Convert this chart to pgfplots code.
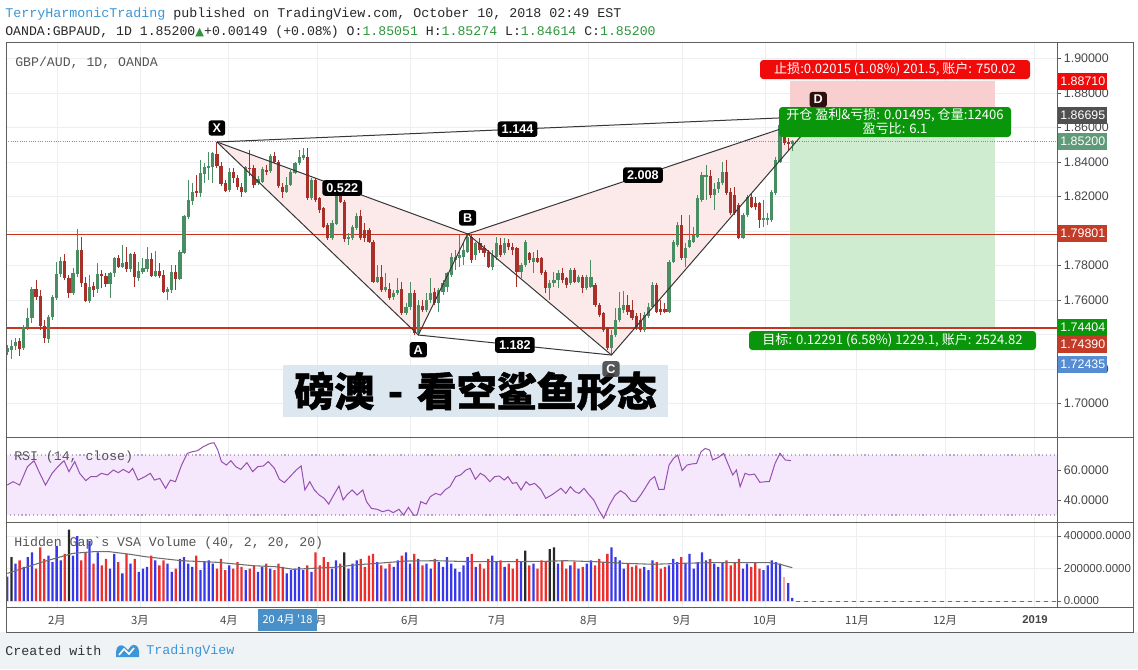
\documentclass[border=0pt]{standalone}
\usepackage{pgfplots}
\pgfplotsset{compat=1.18}
\usepackage{pgfplotstable}
\usepackage{fontspec}
\setmainfont{Liberation Sans}
\newfontfamily\mono{Liberation Mono}
\newfontfamily\cjk{Noto Sans CJK SC}
\newfontfamily\cjkheavy[BoldFeatures={FakeBold=1.2}]{Noto Sans CJK SC}
\newfontfamily\dejavu{DejaVu Sans}

\definecolor{cgreen}{RGB}{72,142,98}
\definecolor{cred}{RGB}{168,48,40}
\definecolor{lvl}{RGB}{200,52,32}
\definecolor{gridc}{RGB}{236,238,240}
\definecolor{framec}{RGB}{95,95,95}
\definecolor{ticktext}{RGB}{70,70,70}
\definecolor{hdrblue}{RGB}{60,150,215}
\definecolor{hdrgreen}{RGB}{45,150,60}
\definecolor{hdrtxt}{RGB}{40,40,40}
\definecolor{paneltxt}{RGB}{85,85,85}
\definecolor{foottxt}{RGB}{50,50,50}
\definecolor{dlab}{RGB}{45,15,15}
\definecolor{footbg}{RGB}{240,243,246}
\definecolor{patfill}{RGB}{252,234,234}
\definecolor{patline}{RGB}{55,55,55}
\definecolor{zred}{RGB}{249,206,206}
\definecolor{zgreen}{RGB}{208,236,208}
\definecolor{stopred}{RGB}{240,10,10}
\definecolor{boxgreen}{RGB}{10,150,10}
\definecolor{closec}{RGB}{110,160,140}
\definecolor{rsibg}{RGB}{245,232,252}
\definecolor{rsiline}{RGB}{150,80,175}
\definecolor{rsiband}{RGB}{185,165,200}
\definecolor{vblue}{RGB}{55,55,235}
\definecolor{vred}{RGB}{238,45,45}
\definecolor{vblack}{RGB}{40,40,40}
\definecolor{vfade}{RGB}{245,170,170}
\definecolor{vma}{RGB}{110,110,110}
\definecolor{titlebg}{RGB}{219,230,238}
\definecolor{clab}{RGB}{60,60,60}
\definecolor{lab1}{RGB}{240,10,10}
\definecolor{lab2}{RGB}{80,80,80}
\definecolor{lab3}{RGB}{95,155,120}
\definecolor{lab4}{RGB}{195,60,40}
\definecolor{lab5}{RGB}{10,150,10}
\definecolor{lab6}{RGB}{85,140,210}
\definecolor{datebox}{RGB}{74,144,200}

\pgfplotstableread{
i o h l c
0 1.7301 1.7340 1.7282 1.7321
1 1.7311 1.7369 1.7257 1.7334
2 1.7334 1.7379 1.7311 1.7359
3 1.7365 1.7379 1.7276 1.7317
4 1.7321 1.7456 1.7311 1.7446
5 1.7442 1.7552 1.7427 1.7494
6 1.7494 1.7678 1.7465 1.7664
7 1.7663 1.7717 1.7601 1.7620
8 1.7624 1.7659 1.7427 1.7450
9 1.7450 1.7485 1.7350 1.7379
10 1.7373 1.7514 1.7350 1.7500
11 1.7500 1.7630 1.7485 1.7620
12 1.7610 1.7823 1.7601 1.7751
13 1.7751 1.7852 1.7736 1.7827
14 1.7827 1.7867 1.7717 1.7726
15 1.7726 1.7746 1.7610 1.7639
16 1.7643 1.7784 1.7630 1.7755
17 1.7751 1.8012 1.7736 1.7891
18 1.7891 1.7968 1.7678 1.7701
19 1.7701 1.7736 1.7591 1.7597
20 1.7597 1.7746 1.7581 1.7678
21 1.7682 1.7707 1.7620 1.7659
22 1.7663 1.7813 1.7639 1.7751
23 1.7751 1.7775 1.7668 1.7744
24 1.7742 1.7755 1.7678 1.7693
25 1.7693 1.7765 1.7610 1.7755
26 1.7755 1.7852 1.7736 1.7842
27 1.7846 1.7861 1.7784 1.7794
28 1.7794 1.7919 1.7784 1.7817
29 1.7823 1.7910 1.7765 1.7778
30 1.7778 1.7871 1.7765 1.7867
31 1.7867 1.7881 1.7674 1.7732
32 1.7726 1.7823 1.7713 1.7769
33 1.7765 1.7842 1.7751 1.7788
34 1.7778 1.7910 1.7765 1.7836
35 1.7836 1.7871 1.7736 1.7740
36 1.7740 1.7887 1.7736 1.7771
37 1.7771 1.7813 1.7726 1.7740
38 1.7746 1.7775 1.7639 1.7649
39 1.7649 1.7678 1.7601 1.7663
40 1.7659 1.7804 1.7639 1.7765
41 1.7765 1.7804 1.7659 1.7722
42 1.7722 1.7891 1.7717 1.7877
43 1.7875 1.8093 1.7867 1.8088
44 1.8084 1.8296 1.8068 1.8180
45 1.8176 1.8277 1.8151 1.8229
46 1.8232 1.8325 1.8200 1.8219
47 1.8219 1.8412 1.8200 1.8335
48 1.8331 1.8393 1.8277 1.8370
49 1.8370 1.8460 1.8296 1.8377
50 1.8373 1.8460 1.8277 1.8451
51 1.8447 1.8516 1.8364 1.8377
52 1.8377 1.8402 1.8258 1.8273
53 1.8277 1.8296 1.8229 1.8234
54 1.8238 1.8364 1.8229 1.8344
55 1.8344 1.8364 1.8277 1.8306
56 1.8306 1.8325 1.8238 1.8254
57 1.8258 1.8277 1.8200 1.8229
58 1.8229 1.8377 1.8219 1.8373
59 1.8368 1.8470 1.8316 1.8360
60 1.8364 1.8383 1.8248 1.8267
61 1.8277 1.8316 1.8267 1.8300
62 1.8287 1.8373 1.8277 1.8360
63 1.8354 1.8383 1.8325 1.8344
64 1.8350 1.8447 1.8335 1.8435
65 1.8435 1.8460 1.8393 1.8402
66 1.8402 1.8412 1.8248 1.8258
67 1.8258 1.8277 1.8190 1.8229
68 1.8229 1.8316 1.8219 1.8267
69 1.8267 1.8354 1.8258 1.8344
70 1.8339 1.8402 1.8331 1.8393
71 1.8393 1.8470 1.8383 1.8431
72 1.8422 1.8480 1.8412 1.8441
73 1.8431 1.8480 1.8180 1.8190
74 1.8190 1.8306 1.8180 1.8296
75 1.8296 1.8306 1.8171 1.8180
76 1.8190 1.8200 1.8107 1.8122
77 1.8132 1.8142 1.8016 1.8026
78 1.8035 1.8045 1.7948 1.7958
79 1.7958 1.8064 1.7948 1.8045
80 1.8041 1.8219 1.8035 1.8209
81 1.8209 1.8223 1.8161 1.8171
82 1.8171 1.8180 1.7939 1.7952
83 1.7952 1.7987 1.7919 1.7968
84 1.7958 1.8035 1.7948 1.8022
85 1.8016 1.8103 1.8006 1.8088
86 1.8088 1.8122 1.7948 1.7958
87 1.8005 1.8045 1.7939 1.7958
88 1.8006 1.8016 1.7929 1.7939
89 1.7939 1.7948 1.7697 1.7707
90 1.7707 1.7804 1.7697 1.7736
91 1.7736 1.7804 1.7649 1.7659
92 1.7659 1.7755 1.7649 1.7678
93 1.7663 1.7697 1.7601 1.7610
94 1.7620 1.7659 1.7601 1.7639
95 1.7639 1.7726 1.7630 1.7659
96 1.7663 1.7707 1.7514 1.7523
97 1.7523 1.7581 1.7514 1.7562
98 1.7562 1.7706 1.7542 1.7639
99 1.7639 1.7658 1.7397 1.7411
100 1.7411 1.7600 1.7397 1.7571
101 1.7565 1.7600 1.7532 1.7542
102 1.7542 1.7639 1.7532 1.7600
103 1.7600 1.7726 1.7581 1.7639
104 1.7648 1.7668 1.7571 1.7581
105 1.7581 1.7668 1.7532 1.7658
106 1.7648 1.7716 1.7629 1.7697
107 1.7677 1.7764 1.7648 1.7755
108 1.7745 1.7871 1.7735 1.7851
109 1.7832 1.7890 1.7774 1.7851
110 1.7842 1.7977 1.7793 1.7861
111 1.7851 1.7929 1.7803 1.7890
112 1.7880 1.7990 1.7871 1.7967
113 1.7967 1.7977 1.7813 1.7832
114 1.7861 1.7938 1.7832 1.7929
115 1.7929 1.7958 1.7871 1.7890
116 1.7900 1.7919 1.7851 1.7871
117 1.7880 1.7890 1.7784 1.7793
118 1.7793 1.7890 1.7774 1.7861
119 1.7851 1.7967 1.7832 1.7929
120 1.7919 1.7958 1.7851 1.7861
121 1.7871 1.7958 1.7861 1.7932
122 1.7932 1.7952 1.7890 1.7909
123 1.7905 1.7929 1.7861 1.7890
124 1.7900 1.7909 1.7677 1.7764
125 1.7764 1.7813 1.7726 1.7803
126 1.7803 1.7948 1.7793 1.7938
127 1.7871 1.7880 1.7813 1.7832
128 1.7823 1.7880 1.7755 1.7842
129 1.7842 1.7890 1.7813 1.7823
130 1.7842 1.7851 1.7745 1.7755
131 1.7764 1.7774 1.7639 1.7668
132 1.7668 1.7716 1.7600 1.7697
133 1.7697 1.7764 1.7677 1.7716
134 1.7716 1.7774 1.7668 1.7755
135 1.7755 1.7784 1.7697 1.7716
136 1.7726 1.7735 1.7668 1.7687
137 1.7697 1.7784 1.7687 1.7774
138 1.7774 1.7784 1.7697 1.7706
139 1.7706 1.7745 1.7697 1.7732
140 1.7735 1.7745 1.7639 1.7668
141 1.7668 1.7745 1.7658 1.7732
142 1.7677 1.7832 1.7668 1.7735
143 1.7687 1.7697 1.7562 1.7571
144 1.7571 1.7581 1.7504 1.7513
145 1.7523 1.7532 1.7417 1.7426
146 1.7436 1.7446 1.7310 1.7320
147 1.7320 1.7426 1.7282 1.7397
148 1.7397 1.7552 1.7388 1.7484
149 1.7484 1.7649 1.7475 1.7552
150 1.7542 1.7654 1.7523 1.7571
151 1.7571 1.7629 1.7513 1.7533
152 1.7542 1.7600 1.7484 1.7494
153 1.7507 1.7523 1.7426 1.7446
154 1.7484 1.7523 1.7417 1.7426
155 1.7426 1.7533 1.7417 1.7513
156 1.7507 1.7581 1.7494 1.7562
157 1.7562 1.7706 1.7552 1.7687
158 1.7687 1.7697 1.7523 1.7533
159 1.7546 1.7600 1.7513 1.7533
160 1.7546 1.7581 1.7523 1.7533
161 1.7533 1.7832 1.7523 1.7822
162 1.7822 1.7948 1.7813 1.7938
163 1.7919 1.8054 1.7909 1.8035
164 1.8035 1.8093 1.7832 1.7842
165 1.7842 1.7929 1.7793 1.7900
166 1.7909 1.8093 1.7900 1.7948
167 1.7938 1.8025 1.7929 1.7977
168 1.7967 1.8209 1.7958 1.8189
169 1.8180 1.8344 1.8170 1.8325
170 1.8311 1.8383 1.8180 1.8325
171 1.8319 1.8354 1.8189 1.8209
172 1.8209 1.8277 1.8122 1.8242
173 1.8242 1.8306 1.8218 1.8286
174 1.8277 1.8402 1.8267 1.8344
175 1.8344 1.8412 1.8209 1.8218
176 1.8228 1.8248 1.8093 1.8103
177 1.8209 1.8257 1.8093 1.8103
178 1.8150 1.8160 1.7955 1.7960
179 1.7960 1.8103 1.7955 1.8093
180 1.8093 1.8209 1.8083 1.8199
181 1.8199 1.8218 1.8132 1.8141
182 1.8160 1.8199 1.8122 1.8141
183 1.8160 1.8170 1.8016 1.8064
184 1.8064 1.8180 1.8025 1.8074
185 1.8064 1.8103 1.8035 1.8074
186 1.8064 1.8238 1.8054 1.8228
187 1.8222 1.8431 1.8209 1.8412
188 1.8402 1.8624 1.8392 1.8615
189 1.8615 1.8640 1.8500 1.8508
190 1.8518 1.8540 1.8470 1.8505
191 1.85051 1.85274 1.84614 1.85200
}\candles

\pgfplotstableread{
i r
0.0 50.0
1.4 52.2
3.0 50.0
4.9 62.2
6.5 66.2
7.9 57.8
9.3 50.0
10.9 57.8
12.3 62.2
13.8 66.2
15.0 58.9
16.4 65.6
17.6 57.8
19.1 52.9
20.3 55.6
21.7 55.6
22.9 57.8
24.4 56.7
25.8 60.0
27.0 58.2
28.2 60.4
29.6 58.2
30.5 61.1
31.8 53.3
33.5 55.6
34.8 57.8
35.8 53.3
37.1 54.4
38.5 47.8
39.7 53.3
40.9 52.2
42.4 63.3
43.8 71.1
45.0 72.2
46.3 72.9
47.7 75.6
49.4 77.8
50.3 78.2
51.2 73.3
52.1 65.6
53.3 63.3
54.4 66.2
55.6 62.2
56.8 60.4
58.3 64.9
59.7 58.9
60.9 62.2
62.3 62.7
63.5 65.6
65.0 61.1
66.2 53.8
67.4 51.6
68.8 55.6
70.3 60.0
71.5 62.7
72.4 46.7
73.6 52.2
74.7 46.7
75.9 43.3
77.1 41.1
78.2 37.3
79.4 43.3
80.7 49.3
81.7 40.0
82.6 43.3
83.9 46.7
85.1 43.3
86.5 46.7
87.4 38.9
88.6 34.4
90.0 33.8
91.3 32.2
92.7 33.3
93.9 31.6
95.3 33.8
96.4 30.0
97.6 35.1
98.9 29.8
99.7 30.0
100.6 38.9
101.9 37.3
102.9 42.2
104.2 44.4
105.4 43.3
106.5 46.7
107.7 48.9
109.1 55.6
110.3 56.7
111.6 60.0
112.6 61.1
113.9 53.8
115.1 57.8
116.2 56.0
117.4 52.2
118.6 55.6
119.7 56.0
120.9 53.3
121.8 55.6
122.9 51.1
123.9 51.6
125.0 46.7
126.2 52.2
127.1 50.0
128.3 51.1
129.8 47.1
131.0 41.1
132.4 43.3
133.6 45.6
134.7 47.8
135.9 44.4
137.0 48.9
138.1 45.6
139.1 44.4
140.3 47.8
141.6 43.3
142.7 40.0
143.9 33.3
145.1 27.8
146.5 36.7
147.9 43.3
149.2 46.2
150.4 44.0
151.8 39.3
152.9 38.9
154.1 43.3
155.0 47.1
156.4 53.3
157.5 55.6
158.5 47.1
159.8 47.1
161.0 63.3
162.1 67.8
163.1 70.0
164.2 59.6
165.4 63.3
166.5 64.0
167.7 64.4
168.8 72.2
169.8 74.4
170.9 73.3
171.6 66.7
173.0 68.4
174.3 71.1
175.3 64.4
176.5 56.7
177.4 60.0
178.3 48.9
179.5 57.8
180.6 56.7
181.8 57.3
183.1 51.8
184.5 52.2
185.4 52.2
186.8 64.4
188.0 71.1
189.3 66.7
190.7 66.2
}\rsi

\pgfplotstableread{
i v t
0 150000 0
1 270000 2
2 230000 0
3 250000 1
4 210000 0
5 270000 0
6 300000 0
7 200000 1
8 330000 1
9 260000 1
10 280000 0
11 240000 0
12 340000 0
13 250000 0
14 290000 1
15 440000 2
16 280000 0
17 400000 0
18 250000 1
19 300000 1
20 370000 0
21 230000 1
22 300000 0
23 220000 1
24 260000 1
25 200000 0
26 290000 0
27 240000 1
28 170000 0
29 290000 1
30 230000 0
31 260000 1
32 180000 0
33 200000 0
34 210000 0
35 280000 1
36 250000 0
37 220000 1
38 250000 1
39 230000 0
40 180000 0
41 200000 1
42 260000 0
43 270000 0
44 230000 0
45 210000 0
46 280000 1
47 190000 0
48 240000 0
49 250000 0
50 230000 0
51 200000 1
52 260000 1
53 190000 1
54 220000 0
55 200000 1
56 240000 1
57 210000 1
58 190000 0
59 200000 1
60 220000 1
61 180000 0
62 210000 0
63 230000 1
64 200000 0
65 190000 1
66 230000 1
67 210000 1
68 170000 0
69 190000 0
70 200000 0
71 210000 0
72 190000 0
73 220000 1
74 180000 0
75 300000 1
76 220000 1
77 270000 1
78 240000 1
79 200000 0
80 250000 0
81 230000 1
82 300000 2
83 200000 0
84 230000 0
85 250000 0
86 260000 1
87 210000 1
88 280000 1
89 290000 1
90 240000 0
91 220000 1
92 200000 0
93 230000 1
94 210000 0
95 250000 0
96 280000 1
97 300000 0
98 230000 0
99 290000 1
100 260000 0
101 220000 1
102 230000 0
103 200000 0
104 260000 1
105 240000 0
106 210000 0
107 270000 0
108 230000 0
109 200000 0
110 180000 0
111 220000 0
112 270000 0
113 290000 1
114 210000 0
115 230000 1
116 200000 1
117 260000 1
118 280000 0
119 240000 0
120 250000 1
121 210000 0
122 230000 1
123 200000 1
124 260000 1
125 240000 0
126 310000 2
127 220000 1
128 230000 0
129 200000 1
130 250000 1
131 240000 1
132 320000 2
133 330000 2
134 230000 0
135 250000 1
136 200000 1
137 220000 0
138 240000 1
139 200000 0
140 210000 1
141 230000 0
142 250000 0
143 220000 1
144 260000 1
145 240000 1
146 290000 1
147 330000 0
148 270000 0
149 250000 0
150 200000 0
151 230000 1
152 210000 1
153 220000 1
154 200000 1
155 210000 0
156 190000 0
157 250000 0
158 240000 1
159 200000 1
160 210000 1
161 220000 0
162 260000 0
163 240000 0
164 270000 1
165 230000 0
166 290000 0
167 200000 0
168 240000 0
169 300000 0
170 250000 0
171 260000 1
172 230000 0
173 210000 0
174 240000 0
175 250000 1
176 220000 1
177 240000 1
178 260000 1
179 200000 0
180 230000 0
181 210000 1
182 240000 1
183 200000 1
184 190000 0
185 220000 0
186 250000 0
187 240000 0
188 230000 0
189 150000 3
190 110000 0
191 20000 0
}\vol

\pgfplotstableread{
i v
0 170000
8.8 242000
15.9 293000
21.2 304000
24.7 304000
30.0 287000
33.5 273000
42.4 248000
51.2 238000
60.0 217000
65.3 211000
69.7 195000
74.1 201000
79.4 207000
84.7 222000
90.0 232000
97.1 246000
104.2 248000
113.0 242000
121.8 242000
130.6 244000
135.9 248000
143.0 242000
150.1 232000
157.1 226000
164.2 232000
171.3 236000
178.3 236000
185.4 236000
188.0 226000
191.0 205000
}\volma

\pgfplotsset{
  panel/.style={
    scale only axis, width=788.25pt, anchor=north west,
    xmin=-0.316, xmax=255.4,
    axis line style={framec, line width=0.75pt},
    xtick={12.1,32.3,53.9,75.5,98.0,119.2,141.5,164.2,184.4,206.7,228.2,250.0},
    xticklabels={}, xtick style={draw=none},
    xmajorgrids, ymajorgrids,
    major grid style={gridc, line width=0.6pt},
    ytick pos=right, yticklabel pos=right,
    tick align=outside, major tick length=3pt,
    ytick style={framec, line width=0.6pt},
    yticklabel style={font=\fontsize{9.3}{10}\selectfont, text=ticktext, inner sep=2pt},
  },
  wick/.style={draw=none, mark=none, forget plot,
    error bars/.cd, y dir=both, y explicit, error mark=none,
    error bar style={draw=#1, line width=0.7pt}},
  body/.style={draw=none, mark=none, forget plot,
    error bars/.cd, y dir=both, y explicit, error mark=none,
    error bar style={draw=#1, line width=2.4pt}},
  vbar/.style={ybar, bar width=1.7pt, bar shift=0pt, draw=none, fill=#1, forget plot},
}

\tikzset{
  plab/.style={fill=black, text=white, rounded corners=2pt, inner xsep=3pt, inner ysep=2.5pt,
    font=\bfseries\fontsize{9.5}{10}\selectfont},
  rlab/.style={anchor=west, text=white, font=\fontsize{9.3}{10}\selectfont,
    minimum width=36.75pt, minimum height=12.75pt, inner sep=0.5pt},
}

\begin{document}
\begin{tikzpicture}
\useasboundingbox (0pt,0pt) rectangle (853.5pt,-501.75pt);
\fill[white] (0pt,0pt) rectangle (853.5pt,-501.75pt);
\fill[footbg] (0pt,-474pt) rectangle (853.5pt,-501.75pt);

% ---------------- main price panel ----------------
\begin{axis}[panel, at={(4.5pt,-31.5pt)}, height=296.25pt,
  ymin=1.68058, ymax=1.90956,
  ytick={1.70,1.72,1.74,1.76,1.78,1.80,1.82,1.84,1.86,1.88,1.90},
  yticklabels={1.70000,1.72000,{},1.76000,1.78000,{},1.82000,1.84000,1.86000,1.88000,1.90000}]
  \addplot[draw=none, fill=zred, forget plot] coordinates {(190.4,1.86695) (240.3,1.86695) (240.3,1.88710) (190.4,1.88710)} -- cycle;
  \addplot[draw=none, fill=zgreen, forget plot] coordinates {(190.4,1.74404) (240.3,1.74404) (240.3,1.86695) (190.4,1.86695)} -- cycle;
  \addplot[draw=none, fill=patfill, forget plot] coordinates {(51,1.8516) (100,1.7397) (112,1.7983)} -- cycle;
  \addplot[draw=none, fill=patfill, forget plot] coordinates {(112,1.7983) (147,1.7281) (197.3,1.8665)} -- cycle;
  \addplot[lvl, line width=1.1pt, forget plot] coordinates {(-0.316,1.79801) (255.4,1.79801)};
  \addplot[lvl, line width=1.1pt, forget plot] coordinates {(-0.316,1.74390) (255.4,1.74390)};
  \addplot[closec, densely dotted, line width=0.7pt, forget plot] coordinates {(-0.316,1.85200) (255.4,1.85200)};
  \addplot[wick=cgreen] table[x=i, y expr={\thisrow{c}>=\thisrow{o} ? (\thisrow{h}+\thisrow{l})/2 : nan}, y error expr={(\thisrow{h}-\thisrow{l})/2}] {\candles};
  \addplot[wick=cred] table[x=i, y expr={\thisrow{c}<\thisrow{o} ? (\thisrow{h}+\thisrow{l})/2 : nan}, y error expr={(\thisrow{h}-\thisrow{l})/2}] {\candles};
  \addplot[body=cgreen] table[x=i, y expr={\thisrow{c}>=\thisrow{o} ? (\thisrow{o}+\thisrow{c})/2 : nan}, y error expr={max(abs(\thisrow{o}-\thisrow{c})/2,0.00012)}] {\candles};
  \addplot[body=cred] table[x=i, y expr={\thisrow{c}<\thisrow{o} ? (\thisrow{o}+\thisrow{c})/2 : nan}, y error expr={max(abs(\thisrow{o}-\thisrow{c})/2,0.00012)}] {\candles};
  \addplot[patline, line width=0.75pt, forget plot] coordinates {(51,1.8516) (100,1.7397) (112,1.7983) (147,1.7281) (197.3,1.8665)};
  \addplot[patline, line width=0.75pt, forget plot] coordinates {(51,1.8516) (112,1.7983) (197.3,1.8665)};
  \addplot[patline, line width=0.75pt, forget plot] coordinates {(51,1.8516) (197.3,1.8665)};
  \addplot[patline, line width=0.75pt, forget plot] coordinates {(100,1.7397) (147,1.7281)};
  \node[plab] at (axis cs:51,1.8516) [yshift=10.5pt] {X};
  \node[plab] at (axis cs:100,1.7397) [yshift=-11pt] {A};
  \node[plab] at (axis cs:112,1.7983) [yshift=12pt] {B};
  \node[plab, fill=dlab] at (axis cs:197.3,1.8665) [yshift=12.5pt] {D};
  \node[plab] at (axis cs:81.5,1.82495) {0.522};
  \node[plab] at (axis cs:124.15,1.85905) {1.144};
  \node[plab] at (axis cs:154.65,1.8324) {2.008};
  \node[plab] at (axis cs:123.5,1.7339) {1.182};
\end{axis}

% ---------------- RSI panel ----------------
\begin{axis}[panel, at={(4.5pt,-327.75pt)}, height=63.75pt,
  ymin=25.33, ymax=82, ytick={40,60}, yticklabels={40.0000,60.0000}]
  \addplot[draw=none, fill=rsibg, forget plot] coordinates {(-0.316,30) (255.4,30) (255.4,70) (-0.316,70)} -- cycle;
  \addplot[rsiband, dotted, line width=0.9pt, forget plot] coordinates {(-0.316,70) (255.4,70)};
  \addplot[rsiband, dotted, line width=0.9pt, forget plot] coordinates {(-0.316,30) (255.4,30)};
  \addplot[rsiline, line width=0.75pt, forget plot] table[x=i, y=r] {\rsi};
\end{axis}

% ---------------- Volume panel ----------------
\begin{axis}[panel, at={(4.5pt,-391.5pt)}, height=63.75pt,
  ymin=-36923, ymax=486154, scaled y ticks=false,
  ytick={0,200000,400000}, yticklabels={0.0000,200000.0000,400000.0000},
  yticklabel style={font=\fontsize{8.6}{9}\selectfont}]
  \addplot[vbar=vblue] table[x=i, y expr={\thisrow{t}==0 ? \thisrow{v} : nan}] {\vol};
  \addplot[vbar=vred] table[x=i, y expr={\thisrow{t}==1 ? \thisrow{v} : nan}] {\vol};
  \addplot[vbar=vblack] table[x=i, y expr={\thisrow{t}==2 ? \thisrow{v} : nan}] {\vol};
  \addplot[vbar=vfade] table[x=i, y expr={\thisrow{t}==3 ? \thisrow{v} : nan}] {\vol};
  \addplot[vma, line width=0.8pt, forget plot] table[x=i, y=v] {\volma};
  \addplot[vma, dashed, line width=0.7pt, forget plot] coordinates {(192,0) (255.4,0)};
\end{axis}

% ---------------- annotations in pixel coordinates ----------------
\begin{scope}[x=0.75pt, y=-0.75pt]
  \draw[framec, line width=0.75pt] (6,42) -- (1133,42) -- (1133,632) -- (6,632) -- cycle;
  \draw[framec, line width=0.75pt] (1057,437) -- (1133,437);
  \draw[framec, line width=0.75pt] (1057,522) -- (1133,522);
  \draw[framec, line width=0.75pt] (6,607) -- (1133,607);

  \node[anchor=west, inner sep=0pt, font=\mono\fontsize{10}{11}\selectfont, text=hdrtxt] at (5,14)
    {\textcolor{hdrblue}{TerryHarmonicTrading} published on TradingView.com, October 10, 2018 02:49 EST};
  \node[anchor=west, inner sep=0pt, font=\mono\fontsize{9.9}{11}\selectfont, text=hdrtxt] at (5,32)
    {OANDA:GBPAUD, 1D 1.85200\textcolor{hdrgreen}{{\dejavu\fontsize{8.5}{9}\selectfont ▲}}+0.00149 (+0.08\%) O:\textcolor{hdrgreen}{1.85051} H:\textcolor{hdrgreen}{1.85274} L:\textcolor{hdrgreen}{1.84614} C:\textcolor{hdrgreen}{1.85200}};

  \node[anchor=west, inner sep=0pt, font=\mono\fontsize{9.9}{11}\selectfont, text=paneltxt] at (15,63) {GBP/AUD, 1D, OANDA};
  \node[anchor=west, inner sep=0pt, font=\mono\fontsize{9.9}{11}\selectfont, text=paneltxt] at (14,457) {RSI (14, close)};
  \node[anchor=west, inner sep=0pt, font=\mono\fontsize{9.9}{11}\selectfont, text=paneltxt] at (14,543) {Hidden Gap`s VSA Volume (40, 2, 20, 20)};

  \node[rlab, fill=lab1] at (1058,81) {1.88710};
  \node[rlab, fill=lab2] at (1058,115) {1.86695};
  \node[rlab, fill=lab3] at (1058,141) {1.85200};
  \node[rlab, fill=lab4] at (1058,233) {1.79801};
  \node[rlab, fill=lab5] at (1058,327) {1.74404};
  \node[rlab, fill=lab4] at (1058,344) {1.74390};
  \node[rlab, fill=lab6] at (1058,364) {1.72435};

  \node[fill=stopred, text=white, rounded corners=2.5pt, minimum width=202.5pt, minimum height=14.25pt, inner sep=1pt,
        font=\cjk\fontsize{9.8}{10}\selectfont] at (895,69.5) {止损:0.02015 (1.08\%) 201.5, 账户: 750.02};
  \node[fill=boxgreen, text=white, rounded corners=2.5pt, minimum width=174pt, minimum height=22.5pt, inner sep=1pt,
        align=center, font=\cjk\fontsize{9.8}{10.5}\selectfont] at (895,122) {开仓 盈利\&亏损: 0.01495, 仓量:12406\\盈亏比: 6.1};
  \node[fill=boxgreen, text=white, rounded corners=2.5pt, minimum width=215.25pt, minimum height=14.25pt, inner sep=1pt,
        font=\cjk\fontsize{9.8}{10}\selectfont] at (892.5,340.5) {目标: 0.12291 (6.58\%) 1229.1, 账户: 2524.82};

  \node[fill=titlebg, fill opacity=0.92, text opacity=1, minimum width=288.75pt, minimum height=39pt, inner sep=0pt,
        font=\cjkheavy\bfseries\fontsize{30}{31}\selectfont, text=black] at (475.5,391)
        {磅澳\hspace{0.34em}-\hspace{0.34em}看空鲨鱼形态};
  \node[plab, fill=clab, fill opacity=0.85, text opacity=1] at (611,369) {C};

  \foreach \xx/\lab in {57/2月,140/3月,229/4月,318/5月,410/6月,497/7月,589/8月,682/9月,765/10月,857/11月,945/12月} {
    \node[font=\cjk\fontsize{8.5}{9}\selectfont, text=ticktext, inner sep=0pt] at (\xx,620) {\lab};
  }
  \node[font=\bfseries\fontsize{8.5}{9}\selectfont, text=ticktext, inner sep=0pt] at (1035,620) {2019};
  \node[fill=datebox, text=white, minimum width=44.25pt, minimum height=16.5pt, inner sep=0pt,
        font=\cjk\fontsize{8.3}{9}\selectfont] at (287.5,620) {20 4月 '18};

  \node[anchor=west, inner sep=0pt, font=\mono\fontsize{10}{11}\selectfont, text=foottxt] at (5,651) {Created with};
  \fill[hdrblue] (116,657) -- (116,652) .. controls (116,646) and (121,643) .. (125,647) -- (128,650) -- (131,646) .. controls (134,643) and (139,646) .. (139,651) -- (139,657) -- cycle;
  \draw[white, line width=1.2pt] (119,655) -- (124,649) -- (129,654) -- (134,648);
  \node[anchor=west, inner sep=0pt, font=\mono\fontsize{10}{11}\selectfont, text=hdrblue] at (146,651) {TradingView};
\end{scope}
\end{tikzpicture}
\end{document}
